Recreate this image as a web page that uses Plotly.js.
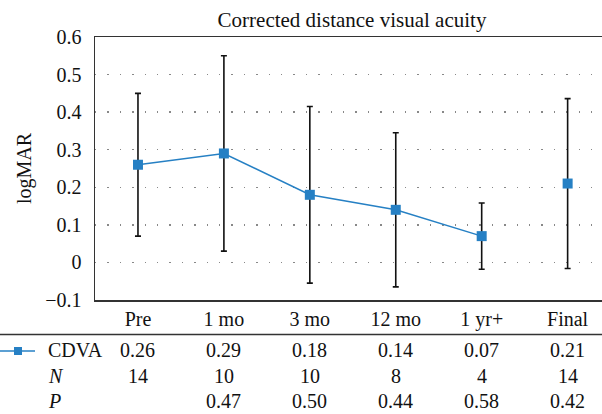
<!DOCTYPE html>
<html>
<head>
<meta charset="utf-8">
<script src="https://cdn.plot.ly/plotly-3.0.1.min.js"></script>
<style>html,body{margin:0;padding:0;background:#fff;}#chart{width:602px;height:414px;}</style>
</head>
<body>
<div id="chart"></div>
<script>
// ---- data ----
var categories = ["Pre", "1 mo", "3 mo", "12 mo", "1 yr+", "Final"];
var cdva = [0.26, 0.29, 0.18, 0.14, 0.07, 0.21];
var cdvaError = [0.19, 0.26, 0.235, 0.205, 0.088, 0.226];
var nValues = [14, 10, 10, 8, 4, 14];
var pValues = [null, 0.47, 0.50, 0.44, 0.58, 0.42];
var yTicks = [-0.1, 0, 0.1, 0.2, 0.3, 0.4, 0.5, 0.6];
var seriesName = "CDVA";

// ---- layout constants ----
var W = 602, H = 414;
var mL = 95, mR = 0, mT = 37, mB = 114;
var plotW = W - mL - mR, plotH = H - mT - mB;
var blue = "rgb(38,128,196)";
var ink = "#111";
var FONT = "Liberation Serif, Times New Roman, serif";
var FS = 20;

function py(pix) { return (H - mB - pix) / plotH; }   // pixel y -> paper y
function px(pix) { return (pix - mL) / plotW; }        // pixel x -> paper x

var nLine = 5; // points joined by the line (Final stands alone)

var traceLine = {
  type: "scatter", mode: "lines+markers",
  x: categories.slice(0, nLine), y: cdva.slice(0, nLine),
  line: {color: blue, width: 1.5},
  marker: {symbol: "square", size: 10, color: blue},
  error_y: {type: "data", array: cdvaError.slice(0, nLine), visible: true,
            color: ink, thickness: 1.6, width: 3},
  showlegend: false, hoverinfo: "skip"
};
var traceFinal = {
  type: "scatter", mode: "markers",
  x: categories.slice(nLine), y: cdva.slice(nLine),
  marker: {symbol: "square", size: 10, color: blue},
  error_y: {type: "data", array: cdvaError.slice(nLine), visible: true,
            color: ink, thickness: 1.6, width: 3},
  showlegend: false, hoverinfo: "skip"
};

var annotations = [];
var rowY = [350, 376, 401];
var rowLabels = [seriesName, "<i>N</i>", "<i>P</i>"];
rowLabels.forEach(function (lab, r) {
  annotations.push({xref: "paper", yref: "paper", x: px(46), y: py(rowY[r]),
    xanchor: "left", yanchor: "middle", text: lab, showarrow: false,
    font: {family: FONT, size: FS, color: ink}});
});
categories.forEach(function (c, i) {
  var rows = [cdva[i].toFixed(2), String(nValues[i]),
              pValues[i] === null ? "" : pValues[i].toFixed(2)];
  rows.forEach(function (t, r) {
    if (t === "") return;
    annotations.push({xref: "x", yref: "paper", x: c, y: py(rowY[r]),
      xanchor: "center", yanchor: "middle", text: t, showarrow: false,
      font: {family: FONT, size: FS, color: ink}});
  });
});

var shapes = [
  // table separator line under header row
  {type: "line", xref: "paper", yref: "paper", x0: px(0), x1: px(W), y0: py(334.5), y1: py(334.5),
   line: {color: "#333", width: 1.5}},
  // legend key in CDVA row
  {type: "line", xref: "paper", yref: "paper", x0: px(0), x1: px(35), y0: py(351), y1: py(351),
   line: {color: blue, width: 1.5}},
  {type: "rect", xref: "paper", yref: "paper", x0: px(14), x1: px(22), y0: py(355), y1: py(347),
   fillcolor: blue, line: {width: 0}}
];

var layout = {
  width: W, height: H,
  margin: {l: mL, r: mR, t: mT, b: mB, pad: 0},
  paper_bgcolor: "#fff", plot_bgcolor: "#fff",
  font: {family: FONT, size: FS, color: ink},
  title: {text: "Corrected distance visual acuity", x: 352 / W, xanchor: "center",
          y: 1 - 20 / H, yanchor: "middle", font: {family: FONT, size: 21, color: ink}},
  xaxis: {
    type: "category", range: [-0.5, 5.4], fixedrange: true,
    showline: true, mirror: true, linecolor: "#333", linewidth: 1.5,
    showgrid: false, zeroline: false, ticks: "",
    tickfont: {family: FONT, size: FS, color: ink}
  },
  yaxis: {
    range: [-0.1, 0.6], tickvals: yTicks, ticktext: yTicks.map(function (v) { return v === 0 ? "0" : (v < 0 ? "\u2212" + Math.abs(v).toFixed(1) : v.toFixed(1)); }),
    showline: true, linecolor: "#333", linewidth: 1.5,
    showgrid: true, gridcolor: "#888", gridwidth: 1.4, griddash: "1.4px,11px",
    zeroline: false, ticks: "", ticklabelstandoff: 8,
    tickfont: {family: FONT, size: FS, color: ink},
    title: {text: "logMAR", standoff: 8, font: {family: FONT, size: FS, color: ink}}
  },
  annotations: annotations,
  shapes: shapes,
  showlegend: false
};

Plotly.newPlot("chart", [traceLine, traceFinal], layout, {displayModeBar: false, staticPlot: true});
</script>
</body>
</html>
